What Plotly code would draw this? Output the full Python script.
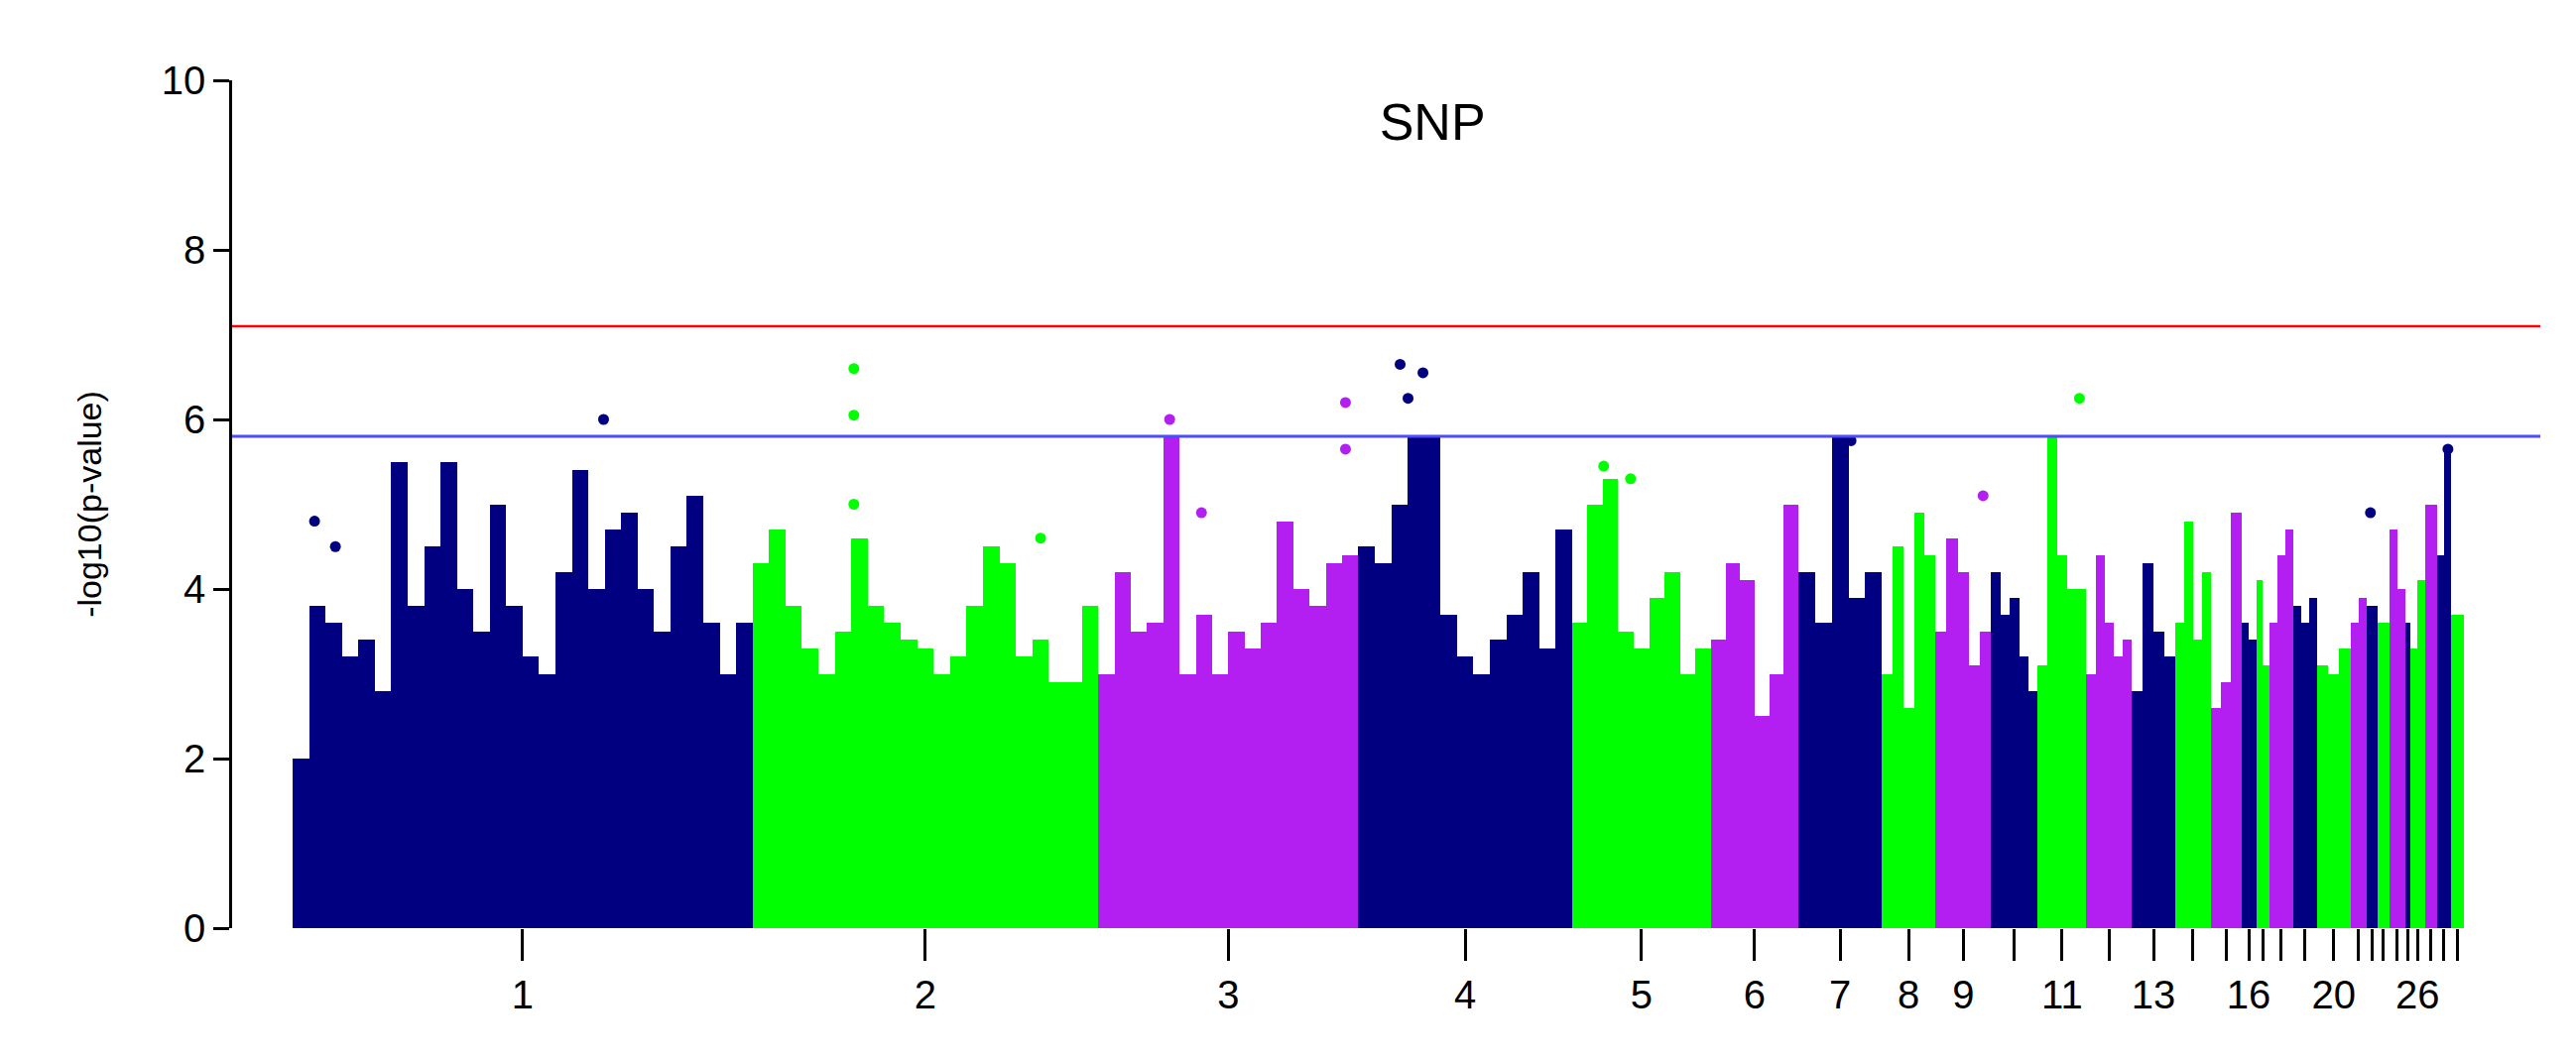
import plotly.graph_objects as go

# SNP counts per chromosome (index units) and peak -log10(p) per equal-width window
chrom_names = [str(i) for i in range(1, 30)]
chrom_sizes = [463, 348, 262, 215, 140, 88, 84, 54, 56, 47, 49, 46, 43, 36, 31,
               15, 13, 24, 24, 34, 16, 11, 12, 16, 5, 15, 12, 14, 13]
window_peaks = [
    [2.0, 3.8, 3.6, 3.2, 3.4, 2.8, 5.5, 3.8, 4.5, 5.5, 4.0, 3.5, 5.0, 3.8, 3.2, 3.0,
     4.2, 5.4, 4.0, 4.7, 4.9, 4.0, 3.5, 4.5, 5.1, 3.6, 3.0, 3.6],
    [4.3, 4.7, 3.8, 3.3, 3.0, 3.5, 4.6, 3.8, 3.6, 3.4, 3.3, 3.0, 3.2, 3.8, 4.5, 4.3,
     3.2, 3.4, 2.9, 2.9, 3.8],
    [3.0, 4.2, 3.5, 3.6, 5.8, 3.0, 3.7, 3.0, 3.5, 3.3, 3.6, 4.8, 4.0, 3.8, 4.3, 4.4],
    [4.5, 4.3, 5.0, 5.8, 5.8, 3.7, 3.2, 3.0, 3.4, 3.7, 4.2, 3.3, 4.7],
    [3.6, 5.0, 5.3, 3.5, 3.3, 3.9, 4.2, 3.0, 3.3],
    [3.4, 4.3, 4.1, 2.5, 3.0, 5.0],
    [4.2, 3.6, 5.8, 3.9, 4.2],
    [3.0, 4.5, 2.6, 4.9, 4.4],
    [3.5, 4.6, 4.2, 3.1, 3.5],
    [4.2, 3.7, 3.9, 3.2, 2.8],
    [3.1, 5.8, 4.4, 4.0, 4.0],
    [3.0, 4.4, 3.6, 3.2, 3.4],
    [2.8, 4.3, 3.5, 3.2],
    [3.6, 4.8, 3.4, 4.2],
    [2.6, 2.9, 4.9],
    [3.6, 3.4],
    [4.1, 3.1],
    [3.6, 4.4, 4.7],
    [3.8, 3.6, 3.9],
    [3.1, 3.0, 3.3],
    [3.6, 3.9],
    [3.8],
    [3.6],
    [4.7, 4.0],
    [3.6],
    [3.3, 4.1],
    [5.0],
    [4.4, 5.6],
    [3.7],
]

# isolated top SNPs (global index, -log10 p)
top_idx = [22, 43, 313, 565, 565, 565, 753, 883, 915, 1060, 1060, 1115, 1123, 1138,
           1320, 1347, 1569, 1702, 1799, 2092, 2170]
top_val = [4.8, 4.5, 6.0, 6.6, 6.05, 5.0, 4.6, 6.0, 4.9, 6.2, 5.65, 6.65, 6.25, 6.55,
           5.45, 5.3, 5.75, 5.1, 6.25, 4.9, 5.65]

suggestive = 5.8
genomewide = 7.1

colors = ['#000080', '#00ff00', '#b21ff0']

fig = go.Figure()
starts = []
pos = 0
for i, (size, peaks) in enumerate(zip(chrom_sizes, window_peaks)):
    starts.append(pos)
    w = size / len(peaks)
    xs = [pos + w * (k + 0.5) for k in range(len(peaks))]
    fig.add_trace(go.Bar(x=xs, y=peaks, width=[w] * len(peaks),
                         marker=dict(color=colors[i % 3], line_width=0),
                         showlegend=False))
    pos += size

def chrom_of(idx):
    c = 0
    for j, s in enumerate(starts):
        if idx >= s:
            c = j
    return c

fig.add_trace(go.Scatter(x=top_idx, y=top_val, mode='markers',
                         marker=dict(size=11, color=[colors[chrom_of(t) % 3] for t in top_idx]),
                         showlegend=False))

centers = [s + n / 2 for s, n in zip(starts, chrom_sizes)]
shown = {'1', '2', '3', '4', '5', '6', '7', '8', '9', '11', '13', '16', '20', '26'}
ticktext = [n if n in shown else '' for n in chrom_names]

fig.add_shape(type='line', xref='paper', x0=0, x1=1, y0=genomewide, y1=genomewide,
              line=dict(color='red', width=2.5))
fig.add_shape(type='line', xref='paper', x0=0, x1=1, y0=suggestive, y1=suggestive,
              line=dict(color='#4b4bff', width=3))

fig.update_layout(
    width=2597, height=1070,
    margin=dict(l=226, r=44, t=73, b=142),
    plot_bgcolor='white', paper_bgcolor='white',
    bargap=0,
    font=dict(family='Liberation Sans, Arial', color='black'),
    title=dict(text='SNP', x=0.553, xanchor='center', y=0.893, yanchor='middle',
               font=dict(size=52)),
    xaxis=dict(range=[-61, 2263], tickvals=centers, ticktext=ticktext,
               ticks='outside', ticklen=32, tickwidth=2.5, tickcolor='black',
               showgrid=False, zeroline=False, showline=False,
               tickfont=dict(size=40)),
    yaxis=dict(range=[0, 10], tickvals=[0, 2, 4, 6, 8, 10],
               ticks='outside', ticklen=16, tickwidth=2.5, tickcolor='black',
               showline=True, linecolor='black', linewidth=2.5,
               showgrid=False, zeroline=False, tickfont=dict(size=40),
               title=dict(text='-log10(p-value)', font=dict(size=34), standoff=50)),
)

fig.write_html("out.html")
